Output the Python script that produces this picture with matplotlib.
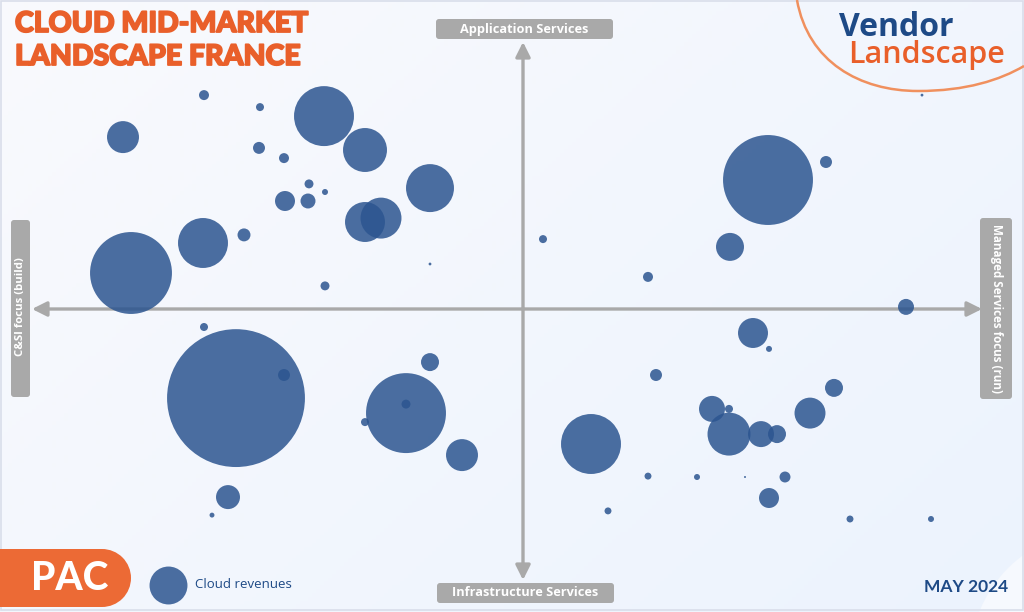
#!/usr/bin/env python3
"""Cloud mid-market vendor landscape (France) bubble chart."""

import numpy as np
import matplotlib
matplotlib.use("Agg")
import matplotlib.pyplot as plt
import matplotlib.patheffects as pe
from matplotlib.patches import FancyBboxPatch, Rectangle, Circle, FancyArrowPatch, PathPatch
from matplotlib.path import Path

# Vendor positions: x = build (-) / run (+) focus, y = infrastructure (-) / application (+)
vendor_x = [-63.8, -52.6, -39.8, -31.6, -80.0, -52.8, -47.8, -18.6, -42.8, -39.6,
            -47.6, -43.0, -31.6, -28.4, -64.0, -55.8, -18.6, -39.6, -78.4, -63.8,
            -57.4, -47.8, -18.6, -23.4, -23.4, -31.6, -12.2, -59.0, -62.2,
            49.0, 60.6, 41.4, 4.0, 25.0, 76.6, 79.8,
            46.0, 49.2, 26.6, 62.2, 37.8, 41.2, 41.2, 47.6, 50.8, 57.4,
            34.8, 44.4, 52.4, 49.2, 65.4, 13.6, 25.0, 17.0, 81.6]
vendor_y = [71.3, 67.3, 64.3, 53.0, 57.3, 53.7, 50.3, 40.3, 41.7, 39.0,
            36.0, 36.0, 29.0, 30.3, 22.0, 24.7, 15.0, 7.7, 12.0, -6.0,
            -29.7, -22.0, -17.7, -34.7, -31.7, -37.7, -48.7, -62.7, -68.7,
            43.0, 49.0, 20.7, 23.3, 10.7, 0.7, 71.3,
            -8.0, -13.3, -22.0, -26.3, -33.3, -33.3, -41.7, -41.7, -41.7, -34.7,
            -56.0, -56.0, -56.0, -63.0, -70.0, -45.0, -55.7, -67.3, -70.0]
# Cloud revenues (relative, bubble area)
revenue = [2.5, 1.6, 90, 48.4, 25.6, 3.6, 2.5, 57.6, 2.0, 0.9,
           10, 5.6, 40, 42, 62.5, 4.2, 0.2, 2.0, 168, 1.6,
           476, 3.6, 8.1, 160, 2.0, 1.6, 25.6, 14.4, 0.6,
           202.5, 3.6, 19.6, 1.6, 2.5, 6.4, 0.2,
           22.5, 0.9, 3.6, 8.1, 16.9, 1.6, 46.2, 16.9, 8.1, 24,
           0.9, 0.1, 3.0, 10, 1.2, 90, 1.2, 1.2, 0.9]
legend_revenue = 36

title_lines = ["CLOUD MID-MARKET", "LANDSCAPE FRANCE"]
axis_labels = {
    "top": "Application Services",
    "bottom": "Infrastructure Services",
    "left": "C&SI focus (build)",
    "right": "Managed Services focus (run)",
}
legend_label = "Cloud revenues"
date_label = "MAY 2024"

ORANGE = "#e95f2a"
NAVY = "#1e4a86"
BUBBLE = "#2c5590"
GREY = "#a9a9a9"
W, H = 1024, 612

fig = plt.figure(figsize=(W / 100, H / 100), dpi=100)

# Decoration layer in pixel units
deco = fig.add_axes([0, 0, 1, 1])
deco.set_xlim(0, W)
deco.set_ylim(H, 0)
deco.axis("off")

# background gradient
gx = np.linspace(0, 1, 256)
gy = np.linspace(0, 1, 160)
gxx, gyy = np.meshgrid(gx, gy)
t = np.clip(0.6 * gxx + 0.4 * gyy, 0, 1)
c0 = np.array([249, 250, 253]) / 255
c1 = np.array([236, 243, 253]) / 255
bg = c0[None, None, :] * (1 - t[..., None]) + c1[None, None, :] * t[..., None]
deco.imshow(bg, extent=(0, W, H, 0), aspect="auto", zorder=0)
deco.add_patch(Circle((1100, 660), 130, facecolor="#f6f9fe", edgecolor="none", zorder=0.5))
deco.add_patch(Rectangle((1, 1), W - 2, H - 3, facecolor="none", edgecolor="#d9deea", lw=1.2, zorder=0.6))

# quadrant arrows
arrow_kw = dict(arrowstyle="-|>", mutation_scale=22, color=GREY, lw=2.4, shrinkA=0, shrinkB=0, zorder=1)
deco.add_patch(FancyArrowPatch((523, 309), (32, 309), **arrow_kw))
deco.add_patch(FancyArrowPatch((523, 309), (982, 309), **arrow_kw))
deco.add_patch(FancyArrowPatch((523, 309), (523, 42), **arrow_kw))
deco.add_patch(FancyArrowPatch((523, 309), (523, 580), **arrow_kw))

label_font = dict(color="white", fontweight="bold", family=["Open Sans", "DejaVu Sans"],
                  ha="center", va="center", zorder=3)
box_kw = dict(boxstyle="round,pad=0,rounding_size=3", facecolor=GREY, edgecolor="none", zorder=2)
deco.add_patch(FancyBboxPatch((436, 19), 177, 20, **box_kw))
deco.text(524, 29, axis_labels["top"], fontsize=9.2, **label_font)
deco.add_patch(FancyBboxPatch((437, 583), 177, 20, **box_kw))
deco.text(525, 593, axis_labels["bottom"], fontsize=9.2, **label_font)
deco.add_patch(FancyBboxPatch((11, 220), 19, 177, **box_kw))
deco.text(20.5, 307, axis_labels["left"], rotation=90, fontsize=8.2, **label_font)
deco.add_patch(FancyBboxPatch((980, 218), 32, 181, **box_kw))
deco.text(996, 309, axis_labels["right"], rotation=270, fontsize=8.4, **label_font)

# title
for i, line in enumerate(title_lines):
    deco.text(15, 24 + 33 * i, line, color=ORANGE, fontsize=20.5, fontweight="black",
              family=["Lato", "DejaVu Sans"], ha="left", va="center", zorder=3,
              path_effects=[pe.withStroke(linewidth=1.3, foreground=ORANGE)])

# Vendor Landscape logo with orange arc
arc = Path([(797, 0), (808, 62), (860, 91), (918, 91), (966, 91), (1000, 80), (1024, 66)],
           [Path.MOVETO, Path.CURVE4, Path.CURVE4, Path.CURVE4, Path.CURVE4, Path.CURVE4, Path.CURVE4])
deco.add_patch(PathPatch(arc, facecolor="none", edgecolor="#f0905e", lw=1.8, zorder=1))
deco.text(839, 27, "Vendor", color=NAVY, fontsize=23, fontweight="bold",
          family=["Open Sans", "DejaVu Sans"], ha="left", va="center", zorder=3)
deco.text(848, 55, "Landscape", color=ORANGE, fontsize=22, fontweight="semibold",
          family=["Open Sans", "DejaVu Sans"], ha="left", va="center", zorder=3)

# PAC logo
deco.add_patch(Rectangle((0, 549), 102, 58, facecolor="#ec6a35", edgecolor="none", zorder=2))
deco.add_patch(Circle((102, 578), 29, facecolor="#ec6a35", edgecolor="none", zorder=2))
deco.text(70, 579, "PAC", color="white", fontsize=28, fontweight="black",
          family=["Lato", "DejaVu Sans"], ha="center", va="center", zorder=3)

# date
deco.text(1008, 587, date_label, color=NAVY, fontsize=12.5, fontweight="bold",
          family=["Lato", "DejaVu Sans"], ha="right", va="center", zorder=3)

# Bubble layer in score units (axes cross at 0, 0)
ax = fig.add_axes([0, 0, 1, 1])
ax.set_xlim(-104.6, 100.2)
ax.set_ylim(-101.0, 103.0)
ax.axis("off")
ax.patch.set_alpha(0)

area_scale = 20.7  # revenue -> marker area (pt^2)
ax.scatter(vendor_x, vendor_y, s=np.array(revenue) * area_scale, color=BUBBLE, alpha=0.85,
           linewidths=0, zorder=4)

# legend
deco.scatter([168], [585], s=legend_revenue * area_scale, color=BUBBLE, alpha=0.85, linewidths=0, zorder=4)
deco.text(195, 585, legend_label, color=NAVY, fontsize=9.5, family=["Open Sans", "DejaVu Sans"],
          ha="left", va="center", zorder=3)

fig.savefig("out.png", dpi=100)
plt.close(fig)
